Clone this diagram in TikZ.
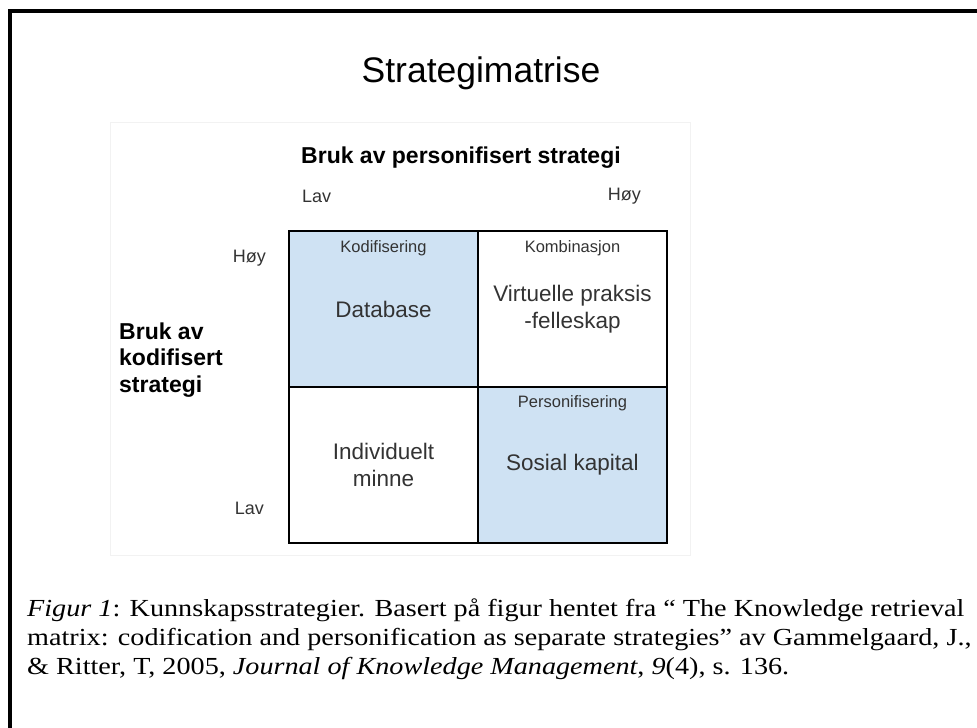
\documentclass[tikz,border=0pt]{standalone}
\usepackage{fontspec}
\setmainfont{Liberation Sans}
\newfontfamily\capfont[FakeStretch=1.15]{Liberation Serif}
\usetikzlibrary{positioning}
\definecolor{cellblue}{HTML}{CFE2F3}
\definecolor{textgrey}{HTML}{333333}

\begin{document}
\begin{tikzpicture}[x=1pt, y=-1pt,
     node distance = 0pt and 0pt,
       cell/.style = {rectangle, draw=black, line width=1.8pt, fill=#1, outer sep=0pt,
                     minimum width=189pt, minimum height=156pt, inner sep=0pt},
        tag/.style = {font=\fontsize{16.5}{19}\selectfont, text=textgrey, inner sep=0pt},
       body/.style = {font=\fontsize{22.5}{27}\selectfont, text=textgrey, align=center, inner sep=0pt},
       axis/.style = {font=\fontsize{18}{21}\selectfont, text=textgrey, inner sep=0pt}
                        ]
\useasboundingbox (0,0) rectangle (977,728);
\fill[white] (0,0) rectangle (977,728);
\draw[line width=4pt] (10,740) -- (10,11) -- (990,11);
\draw[black!5] (110,122) rectangle (690,555);
% title
\node (title) at (481,73) {\fontsize{35.5}{42}\selectfont Strategimatrise};
% axes
\node (xaxis) [anchor=west, inner sep=0pt, font=\bfseries\fontsize{23}{27}\selectfont] at (301,158) {Bruk av personifisert strategi};
\node (xlow) [axis, anchor=west] at (302,196) {Lav};
\node (xhigh) [axis, anchor=east] at (641,196) {Høy};
\node (yaxis) [anchor=west, align=left, inner sep=0pt,
               font=\bfseries\fontsize{23}{26.5}\selectfont] at (119,360) {Bruk av\\kodifisert\\strategi};
\node (yhigh) [axis, anchor=east] at (266,258) {Høy};
\node (ylow) [axis, anchor=east] at (264,508) {Lav};
% matrix
\node (kod) [cell=cellblue] at (383.5,309) {};
\node (kom) [cell=white, right=of kod] {};
\node (ind) [cell=white, below=of kod] {};
\node (per) [cell=cellblue, right=of ind] {};
\node [tag, below=9pt of kod.north] {Kodifisering};
\node [tag, below=9pt of kom.north] {Kombinasjon};
\node [tag, below=8pt of per.north] {Personifisering};
\node [body] at (kod) {Database};
\node [body] at (kom) {Virtuelle praksis\\-felleskap};
\node [body] at (ind) {Individuelt\\minne};
\node [body] at (per) {Sosial kapital};
% caption
\node (caption) [anchor=west, align=left, inner sep=0pt,
                 font=\capfont\fontsize{24.5}{29}\selectfont] at (27,639)
  {\textit{Figur 1}: Kunnskapsstrategier. Basert på figur hentet fra “ The Knowledge retrieval\\
   matrix: codification and personification as separate strategies” av Gammelgaard, J.,\\
   \& Ritter, T, 2005, \textit{Journal of Knowledge Management}, \textit{9}(4), s. 136.};
\end{tikzpicture}
\end{document}
